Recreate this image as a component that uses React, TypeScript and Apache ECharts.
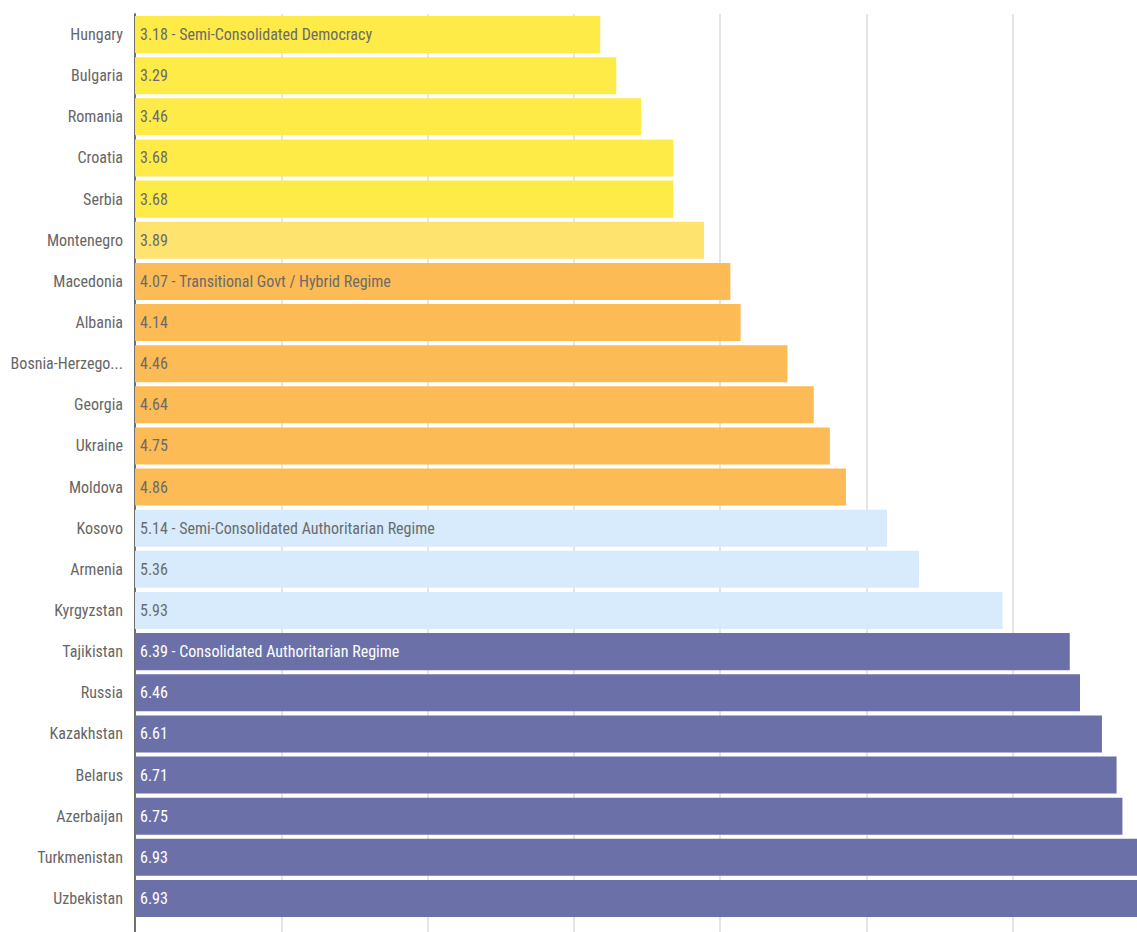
import React, { useEffect, useRef } from "react";
import * as echarts from "echarts";

const countries = [
  "Hungary", "Bulgaria", "Romania", "Croatia", "Serbia", "Montenegro",
  "Macedonia", "Albania", "Bosnia-Herzego...", "Georgia", "Ukraine", "Moldova",
  "Kosovo", "Armenia", "Kyrgyzstan", "Tajikistan", "Russia", "Kazakhstan",
  "Belarus", "Azerbaijan", "Turkmenistan", "Uzbekistan",
];
const scores = [
  3.18, 3.29, 3.46, 3.68, 3.68, 3.89,
  4.07, 4.14, 4.46, 4.64, 4.75, 4.86,
  5.14, 5.36, 5.93, 6.39, 6.46, 6.61,
  6.71, 6.75, 6.93, 6.93,
];
const regimeNotes: Record<number, string> = {
  0: "Semi-Consolidated Democracy",
  6: "Transitional Govt / Hybrid Regime",
  12: "Semi-Consolidated Authoritarian Regime",
  15: "Consolidated Authoritarian Regime",
};
const regimeGroup = [
  0, 0, 0, 0, 0, 1,
  2, 2, 2, 2, 2, 2,
  3, 3, 3, 4, 4, 4,
  4, 4, 4, 4,
];
const groupColors = ["#FFEB47", "#FFE36F", "#FDBB55", "#D7EBFC", "#6B71A8"];
const groupText = ["#6b6b6b", "#6b6b6b", "#6b6b6b", "#6b6b6b", "#ffffff"];

export default function App() {
  const ref = useRef<HTMLDivElement>(null);
  useEffect(() => {
    if (!ref.current) return;
    document.body.style.overflow = "hidden";
    const chart = echarts.init(ref.current, undefined, { renderer: "svg" });
    const font = "'Liberation Sans Narrow', 'Roboto Condensed', 'DejaVu Sans Condensed', sans-serif";
    const data = scores.map((v, i) => ({
      value: v,
      itemStyle: { color: groupColors[regimeGroup[i]] },
      label: { color: groupText[regimeGroup[i]] },
    }));
    chart.setOption({
      animation: false,
      grid: [
        { left: 135, top: 14, right: 0, height: 905 },
        { left: 135, top: 14, right: 0, bottom: 0 },
      ],
      xAxis: [
        {
          gridIndex: 0, type: "value", min: 0, max: 7, interval: 1,
          axisLabel: { show: false }, axisLine: { show: false }, axisTick: { show: false },
          splitLine: { show: false },
        },
        {
          gridIndex: 1, type: "value", min: 0, max: 7, interval: 1,
          axisLabel: { show: false }, axisLine: { show: false }, axisTick: { show: false },
          splitLine: { show: true, lineStyle: { color: "#dcdcdc", width: 1.5 } },
        },
      ],
      yAxis: [
        {
          gridIndex: 0, type: "category", data: countries, inverse: true,
          axisLine: { show: false }, axisTick: { show: false },
          axisLabel: { color: "#666", fontFamily: font, fontSize: 16, margin: 12 },
        },
        {
          gridIndex: 1, type: "value", min: 0, max: 1,
          axisLabel: { show: false }, axisTick: { show: false }, splitLine: { show: false },
          axisLine: { show: true, lineStyle: { color: "#707070", width: 2 } },
        },
      ],
      series: [
        {
          type: "bar",
          xAxisIndex: 0,
          yAxisIndex: 0,
          data,
          barCategoryGap: "10%",
          z: 3,
          label: {
            show: true,
            position: "insideLeft",
            distance: 5,
            fontFamily: font,
            fontSize: 16,
            formatter: (p: any) =>
              regimeNotes[p.dataIndex] !== undefined
                ? `${p.value.toFixed(2)} - ${regimeNotes[p.dataIndex]}`
                : p.value.toFixed(2),
          },
        },
      ],
    });
    return () => chart.dispose();
  }, []);
  return (
    <div
      ref={ref}
      style={{ position: "fixed", left: 0, top: 0, width: 1159, height: 932, background: "#fff" }}
    />
  );
}
